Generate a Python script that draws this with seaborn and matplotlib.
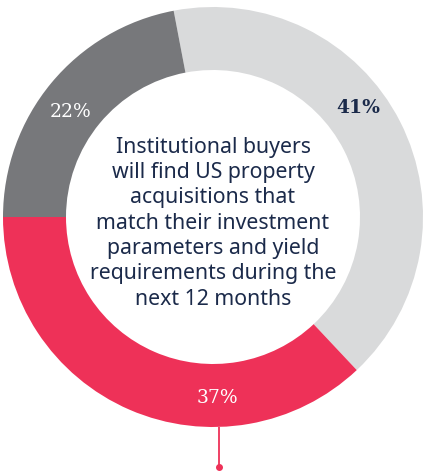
"""
Donut chart: institutional buyers finding US acquisitions in the next 12 months.
Output: out.png (425x471)
"""

import matplotlib.pyplot as plt
import seaborn as sns

sns.set_theme(style="white")

# ---------------------------------------------------------------- data
labels = ["Agree", "Neutral", "Disagree"]
shares = [41, 37, 22]
colors = ["#d9dadb", "#ee3158", "#77787b"]
label_colors = ["#1b2a4a", "white", "white"]
label_weights = ["bold", "normal", "normal"]
# label positions in units of the outer radius
label_pos = [(0.69, 0.52), (0.02, -0.86), (-0.68, 0.50)]

center_text = ("Institutional buyers\nwill find US property\nacquisitions that\n"
               "match their investment\nparameters and yield\n"
               "requirements during the\nnext 12 months")
NAVY = "#1b2a4a"

# ---------------------------------------------------------------- figure
fig = plt.figure(figsize=(4.25, 4.71), dpi=100)
ax = fig.add_axes([0, 0, 1, 1])

R = 210  # outer radius in pixels
ax.pie(shares, colors=colors, startangle=100.8, counterclock=False,
       radius=1.0, wedgeprops=dict(width=0.3, linewidth=0))

for txt, (x, y), c, w in zip([f"{s}%" for s in shares], label_pos,
                              label_colors, label_weights):
    ax.text(x, y, txt, ha="center", va="center", color=c, fontsize=13.5,
            fontweight=w, family="DejaVu Serif")

ax.text(0, -0.03, center_text, ha="center", va="center", color=NAVY,
        fontsize=15.3, family=["Noto Sans", "DejaVu Sans"], linespacing=1.27)

# leader line under the red wedge
lx = label_pos[1][0] + 0.01
ax.plot([lx, lx], [-1.0, -1.19], color=colors[1], lw=1.3, solid_capstyle="butt")
ax.plot([lx], [-1.19], "o", color=colors[1], ms=4)

ax.set_xlim(-213 / R, (425 - 213) / R)
ax.set_ylim(-(471 - 217) / R, 217 / R)
ax.set_aspect("auto")
ax.axis("off")

plt.savefig("out.png", dpi=100)
plt.close()
